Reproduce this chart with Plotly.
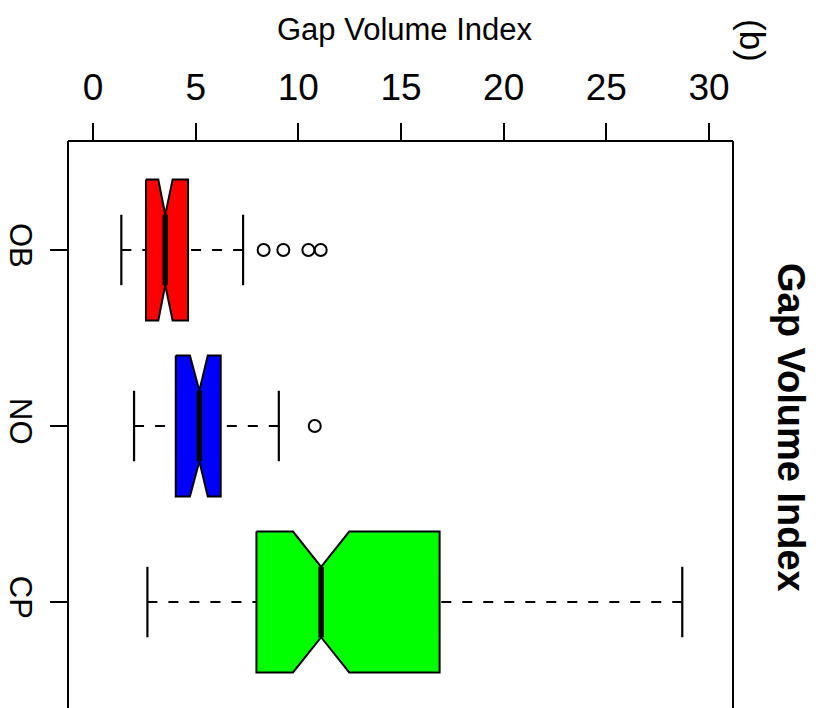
import plotly.graph_objects as go

# ---- data ----
categories = ["OB", "NO", "CP"]
whisker_low = [1.38, 2.00, 2.65]
q1 = [2.58, 4.03, 7.96]
median = [3.52, 5.18, 11.11]
q3 = [4.63, 6.22, 16.88]
whisker_high = [7.31, 9.05, 28.70]
notch_low = [3.18, 4.72, 9.74]
notch_high = [3.88, 5.59, 12.48]
outliers = [[8.31, 9.27, 10.49, 11.09], [10.80], []]
colors = ["#FF0000", "#0000FF", "#00FF00"]
x_ticks = [0, 5, 10, 15, 20, 25, 30]

# ---- style ----
W = 0.4      # box half width (category units)
WN = 0.2     # half width at the notch
STAPLE = 0.2
FONT = "Liberation Sans, Arial, Helvetica, sans-serif"

fig = go.Figure()
for i, cat in enumerate(categories):
    p = i + 1
    # whiskers (dashed), drawn from whisker ends toward the box
    for xe, xb in ((whisker_low[i], q1[i]), (whisker_high[i], q3[i])):
        fig.add_trace(go.Scatter(x=[xe, xb], y=[p, p], mode="lines",
                                 line=dict(color="black", width=2, dash="10px,11px"),
                                 showlegend=False, hoverinfo="skip"))
        fig.add_trace(go.Scatter(x=[xe, xe], y=[p - STAPLE, p + STAPLE], mode="lines",
                                 line=dict(color="black", width=2.2),
                                 showlegend=False, hoverinfo="skip"))
    # notched box
    bx = [q1[i], notch_low[i], median[i], notch_high[i], q3[i],
          q3[i], notch_high[i], median[i], notch_low[i], q1[i], q1[i]]
    by = [p - W, p - W, p - WN, p - W, p - W,
          p + W, p + W, p + WN, p + W, p + W, p - W]
    fig.add_trace(go.Scatter(x=bx, y=by, mode="lines", fill="toself",
                             fillcolor=colors[i], line=dict(color="black", width=2),
                             showlegend=False, hoverinfo="skip"))
    # median
    fig.add_trace(go.Scatter(x=[median[i], median[i]], y=[p - WN, p + WN], mode="lines",
                             line=dict(color="black", width=5.5),
                             showlegend=False, hoverinfo="skip"))
    # outliers
    if outliers[i]:
        fig.add_trace(go.Scatter(x=outliers[i], y=[p] * len(outliers[i]), mode="markers",
                                 marker=dict(symbol="circle-open", size=12, color="black",
                                             line=dict(width=2, color="black")),
                                 showlegend=False, hoverinfo="skip"))

L, R, T = 68, 88, 141
H, Wd = 708, 821
pw = Wd - L - R
ph = H - T

fig.update_layout(
    width=Wd, height=H,
    margin=dict(l=L, r=R, t=T, b=0, pad=0, autoexpand=False),
    paper_bgcolor="white", plot_bgcolor="white",
    font=dict(family=FONT, color="black"),
    xaxis=dict(range=[-1.2175, 31.17], side="top", tickvals=x_ticks,
               ticktext=[str(v) for v in x_ticks],
               ticks="outside", ticklen=17, tickwidth=2, tickcolor="black",
               showgrid=False, zeroline=False, showline=False,
               tickfont=dict(size=37, family=FONT, color="black"),
               ticklabelstandoff=8, automargin=False),
    yaxis=dict(range=[3.602, 0.381], tickvals=[1, 2, 3], ticktext=categories,
               ticks="outside", ticklen=17, tickwidth=2, tickcolor="black",
               tickangle=90, showgrid=False, zeroline=False, showline=False,
               tickfont=dict(size=31, family=FONT, color="black"),
               ticklabelstandoff=3, automargin=False),
)

# frame (left, top, right; bottom lies outside the picture)
for x0, y0, x1, y1 in ((0, 0, 0, 1), (0, 1, 1, 1), (1, 0, 1, 1)):
    fig.add_shape(type="line", xref="paper", yref="paper", x0=x0, y0=y0, x1=x1, y1=y1,
                  line=dict(color="black", width=2))

def px_x(x):
    return (x - L) / pw

def px_y(y):
    return (H - y) / ph

fig.add_annotation(text="Gap Volume Index", xref="paper", yref="paper",
                   x=px_x(405), y=px_y(29), xanchor="center", yanchor="middle",
                   showarrow=False, font=dict(size=31, family=FONT, color="black"))
fig.add_annotation(text="<b>Gap Volume Index</b>", xref="paper", yref="paper",
                   x=px_x(791), y=px_y(427), xanchor="center", yanchor="middle",
                   textangle=90, showarrow=False,
                   font=dict(size=38, family=FONT, color="black"))
fig.add_annotation(text="(b)", xref="paper", yref="paper",
                   x=px_x(753), y=px_y(40), xanchor="center", yanchor="middle",
                   textangle=90, showarrow=False,
                   font=dict(size=35, family=FONT, color="black"))

fig.write_html("out.html", config={"displayModeBar": False},
               post_script="document.body.style.margin='0';document.body.style.overflow='hidden';")
